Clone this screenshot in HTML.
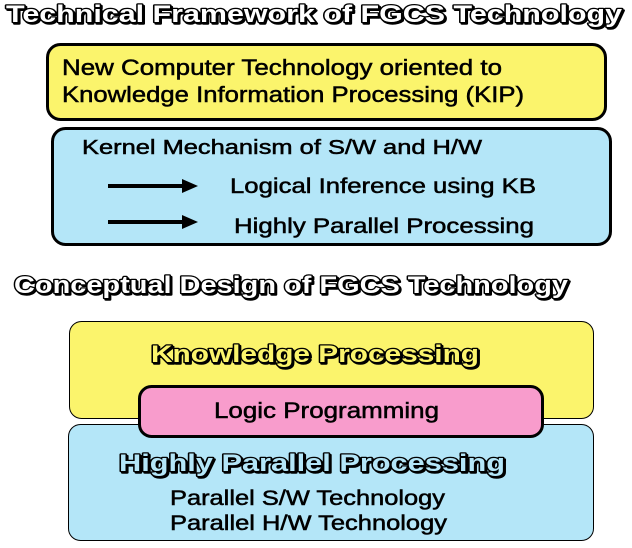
<!DOCTYPE html>
<html><head><style>
body{margin:0;background:#fff;}
svg text{font-family:"Liberation Sans",sans-serif;}
.b{stroke:#000;stroke-width:0.5;}
.o{font-weight:bold;stroke:#000;stroke-width:2.5;paint-order:stroke;stroke-linejoin:round;}
</style></head><body>
<svg width="632" height="543" viewBox="0 0 632 543" xmlns="http://www.w3.org/2000/svg">
<defs><filter id="sh"><feDropShadow dx="1.5" dy="1.5" stdDeviation="0" flood-color="#000"/></filter></defs>
<text x="6" y="22" font-size="24" fill="#fff" class="o" filter="url(#sh)" textLength="616" lengthAdjust="spacingAndGlyphs">Technical Framework of FGCS Technology</text>
<rect x="47.5" y="44.5" width="558" height="75" rx="13" fill="#fbf46c" stroke="#000" stroke-width="3"/>
<text x="62" y="75" font-size="22" class="b" textLength="440" lengthAdjust="spacingAndGlyphs">New Computer Technology oriented to</text>
<text x="62" y="102" font-size="22" class="b" textLength="462" lengthAdjust="spacingAndGlyphs">Knowledge Information Processing (KIP)</text>
<rect x="52.5" y="128.5" width="558" height="116" rx="13" fill="#b4e6f8" stroke="#000" stroke-width="3"/>
<text x="82" y="154" font-size="20" class="b" textLength="400" lengthAdjust="spacingAndGlyphs">Kernel Mechanism of  S/W and H/W</text>
<line x1="108" y1="186" x2="184" y2="186" stroke="#000" stroke-width="4"/>
<polygon points="182,179 198,186 182,193" fill="#000"/>
<line x1="108" y1="222" x2="184" y2="222" stroke="#000" stroke-width="4"/>
<polygon points="182,215 198,222 182,229" fill="#000"/>
<text x="230" y="193" font-size="21" class="b" textLength="306" lengthAdjust="spacingAndGlyphs">Logical Inference using KB</text>
<text x="234" y="233" font-size="21" class="b" textLength="300" lengthAdjust="spacingAndGlyphs">Highly Parallel Processing</text>
<text x="14" y="293" font-size="24" fill="#fff" class="o" filter="url(#sh)" textLength="554" lengthAdjust="spacingAndGlyphs">Conceptual Design of FGCS Technology</text>
<rect x="69.5" y="321.5" width="524" height="97" rx="12" fill="#fbf46c" stroke="#000" stroke-width="1"/>
<rect x="68.5" y="424.5" width="525" height="116" rx="12" fill="#b4e6f8" stroke="#000" stroke-width="1"/>
<rect x="139.5" y="386.5" width="403" height="50" rx="12" fill="#f89ccc" stroke="#000" stroke-width="3"/>
<text x="151" y="362" font-size="24" fill="#fbf46c" class="o" filter="url(#sh)" textLength="328" lengthAdjust="spacingAndGlyphs">Knowledge Processing</text>
<text x="214" y="418" font-size="22" class="b" textLength="225" lengthAdjust="spacingAndGlyphs">Logic Programming</text>
<text x="119" y="471" font-size="24" fill="#b4e6f8" class="o" filter="url(#sh)" textLength="386" lengthAdjust="spacingAndGlyphs">Highly Parallel Processing</text>
<text x="170" y="505" font-size="21" class="b" textLength="275" lengthAdjust="spacingAndGlyphs">Parallel S/W Technology</text>
<text x="170" y="530" font-size="21" class="b" textLength="277" lengthAdjust="spacingAndGlyphs">Parallel H/W Technology</text>
</svg>
</body></html>
